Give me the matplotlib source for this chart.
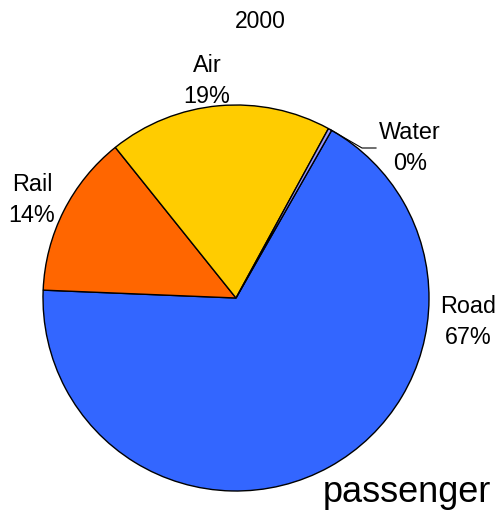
import numpy as np
import matplotlib
matplotlib.use("Agg")
import matplotlib.pyplot as plt

plt.rcParams["font.family"] = ["Liberation Sans", "DejaVu Sans"]

modes = ["Road", "Rail", "Air", "Water"]
shares = [67.4, 13.6, 18.7, 0.3]
colors = ["#3366ff", "#ff6600", "#ffcc00", "#9999ff"]
title = "2000"
caption = "passenger"

W, H = 498, 516
fig = plt.figure(figsize=(W / 100, H / 100), dpi=100)
ax = fig.add_axes([0, 0, 1, 1])

cx, cy, r = 236, H - 298, 193
wedges, _ = ax.pie(shares, colors=colors, startangle=60.3, counterclock=False,
                   center=(cx, cy), radius=r, frame=True,
                   wedgeprops=dict(edgecolor="black", linewidth=1.0))
ax.set_xlim(0, W)
ax.set_ylim(0, H)
ax.set_aspect("equal")
ax.axis("off")

# label positions in pixel coords (from top)
label_pos = {"Road": (468, 322), "Rail": (32, 200), "Air": (207, 81), "Water": (410, 148)}
for name, val in zip(modes, shares):
    x, y = label_pos[name]
    ax.text(x, H - y, f"{name}\n{val:.0f}%", ha="center", va="center",
            fontsize=16.8, linespacing=1.4)

# leader line for the tiny water slice
w = wedges[3]
mid = np.deg2rad((w.theta1 + w.theta2) / 2)
x0, y0 = cx + r * np.cos(mid), cy + r * np.sin(mid)
ax.plot([x0, 362, 376], [y0, H - 148, H - 148], color="black", linewidth=0.8)

ax.text(260, H - 21, title, ha="center", va="center", fontsize=16.5)
ax.text(407, H - 493, caption, ha="center", va="center", fontsize=26)

fig.savefig("out.png", dpi=100)
